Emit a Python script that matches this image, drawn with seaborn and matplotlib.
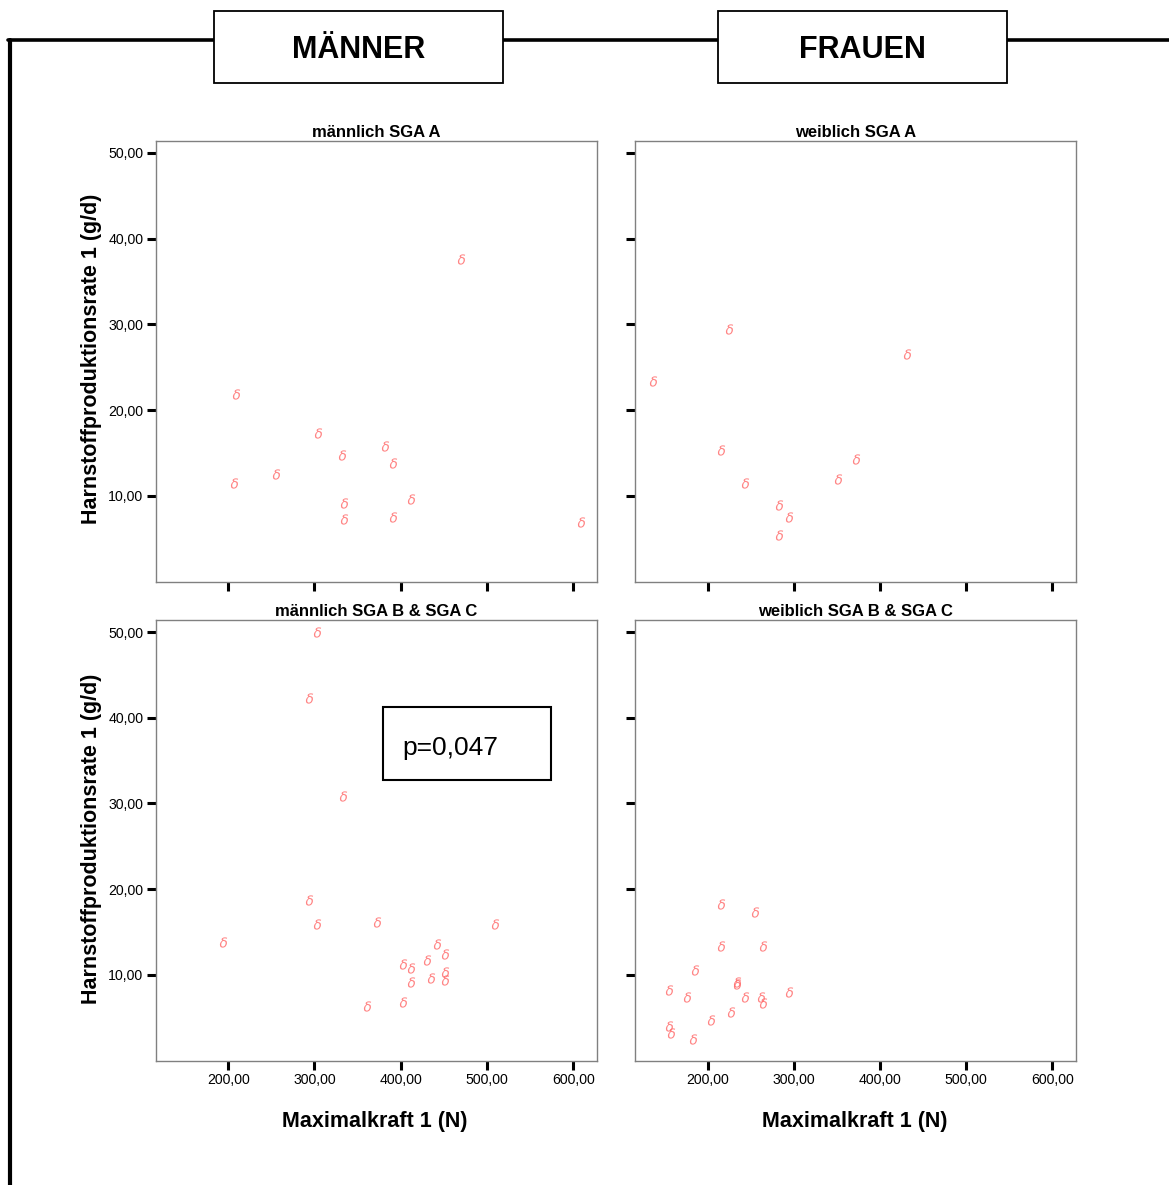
import matplotlib
matplotlib.use("Agg")
import matplotlib.pyplot as plt
from matplotlib.patches import Rectangle
from matplotlib.lines import Line2D
import pandas as pd
import seaborn as sns

# Maximalkraft 1 (N) / Harnstoffproduktionsrate 1 (g/d)
m_a_x = [470, 208.5, 207, 255, 304, 331.5, 334, 334, 382, 391.5, 391.5, 412, 608.5]
m_a_y = [37.6, 21.9, 11.5, 12.6, 17.3, 14.8, 9.15, 7.3, 15.8, 13.8, 7.55, 9.6, 7.0]

w_a_x = [136.5, 225, 431, 216, 243, 351.5, 372.5, 283, 294, 283]
w_a_y = [23.4, 29.5, 26.5, 15.4, 11.5, 12.0, 14.3, 8.9, 7.55, 5.4]

m_bc_x = [303, 294, 333, 294, 303, 194.5, 373, 509.5, 442, 451.5, 430, 402.5,
          412, 451.5, 451.5, 435, 412, 361, 402.5]
m_bc_y = [50.0, 42.3, 30.9, 18.8, 16.0, 13.9, 16.2, 16.0, 13.6, 12.5, 11.8, 11.3,
          10.85, 10.4, 9.4, 9.7, 9.2, 6.4, 6.85]

w_bc_x = [216, 255, 216, 264.5, 185, 234, 234, 155, 176, 243, 262, 264.5, 294,
          227.5, 204, 155, 157.5, 183]
w_bc_y = [18.3, 17.4, 13.4, 13.4, 10.6, 9.2, 9.0, 8.25, 7.4, 7.4, 7.4, 6.7, 8.05,
          5.7, 4.8, 4.1, 3.2, 2.5]

panel_titles = ["männlich SGA A", "weiblich SGA A",
                "männlich SGA B & SGA C", "weiblich SGA B & SGA C"]
x_ticks = [200, 300, 400, 500, 600]
y_ticks = [10, 20, 30, 40, 50]
x_ticklabels = ["200,00", "300,00", "400,00", "500,00", "600,00"]
y_ticklabels = ["10,00", "20,00", "30,00", "40,00", "50,00"]
p_text = "p=0,047"

sns.set_theme(style="white")
plt.rcParams["font.family"] = ["Liberation Sans", "DejaVu Sans"]
plt.rcParams["text.color"] = "black"

W, H = 1169, 1185
fig = plt.figure(figsize=(W / 100, H / 100), dpi=100)


def px_axes(left, top, right, bottom):
    return fig.add_axes([left / W, 1 - bottom / H, (right - left) / W, (bottom - top) / H])


# left, top, right, bottom in pixels
boxes = [(155.7, 140.7, 597, 581.7), (635.3, 140.7, 1076, 581.7),
         (155.7, 620, 597, 1060.7), (635.3, 620, 1076, 1060.7)]
data = [(m_a_x, m_a_y), (w_a_x, w_a_y), (m_bc_x, m_bc_y), (w_bc_x, w_bc_y)]

axes = []
for i, (box, (xs, ys), title) in enumerate(zip(boxes, data, panel_titles)):
    ax = px_axes(*box)
    df = pd.DataFrame({"x": xs, "y": ys})
    sns.scatterplot(data=df, x="x", y="y", ax=ax, marker=r"$\delta$", s=55,
                    color="#ff6666", alpha=0.8, linewidth=0)
    ax.set_xlim(116, 627.5)
    ax.set_ylim(0, 51.4)
    ax.set_xticks(x_ticks)
    ax.set_yticks(y_ticks)
    ax.set_xlabel("")
    ax.set_ylabel("")
    ax.tick_params(axis="both", which="major", bottom=True, left=True,
                   direction="out", length=6.5, width=2.2,
                   color="black", labelsize=10.2, labelcolor="black", pad=2.5)
    if i >= 2:
        ax.set_xticklabels(x_ticklabels)
    else:
        ax.set_xticklabels([])
    if i % 2 == 0:
        ax.set_yticklabels(y_ticklabels)
    else:
        ax.set_yticklabels([])
    for sp in ax.spines.values():
        sp.set_color("#808080")
        sp.set_linewidth(1.0)
    ax.set_title(title, fontsize=12, fontweight="bold", pad=3, color="black")
    axes.append(ax)

# p-value box
ax = axes[2]
ax.add_patch(Rectangle((0.514, 0.637), 0.382, 0.166, transform=ax.transAxes,
                       fill=True, facecolor="white", edgecolor="black", lw=1.5, zorder=5))
ax.text(0.560, 0.694, p_text, transform=ax.transAxes, fontsize=19,
        va="baseline", ha="left", zorder=6, color="black")

# axis labels
ylab = "Harnstoffproduktionsrate 1 (g/d)"
xlab = "Maximalkraft 1 (N)"
for yc in (359, 839):
    fig.text(92 / W, 1 - yc / H, ylab, rotation=90, ha="center", va="center",
             fontsize=15.5, fontweight="bold")
for xc in (375, 855):
    fig.text(xc / W, 1 - 1122 / H, xlab, ha="center", va="center",
             fontsize=15.5, fontweight="bold")

# frame lines and header boxes
fig.add_artist(Line2D([8 / W, 1.0], [1 - 40 / H, 1 - 40 / H], color="black", lw=2.6))
fig.add_artist(Line2D([10 / W, 10 / W], [1 - 40 / H, 0.0], color="black", lw=3.0))
for (l, r), label in zip([(214, 503), (718, 1007)], ["MÄNNER", "FRAUEN"]):
    fig.add_artist(Rectangle((l / W, 1 - 83 / H), (r - l) / W, 72 / H,
                             transform=fig.transFigure, facecolor="white",
                             edgecolor="black", lw=1.3, zorder=3))
    fig.text((l + r) / 2 / W, 1 - 50 / H, label, ha="center", va="center",
             fontsize=22, fontweight="bold", zorder=4)

fig.savefig("out.png", dpi=100)
